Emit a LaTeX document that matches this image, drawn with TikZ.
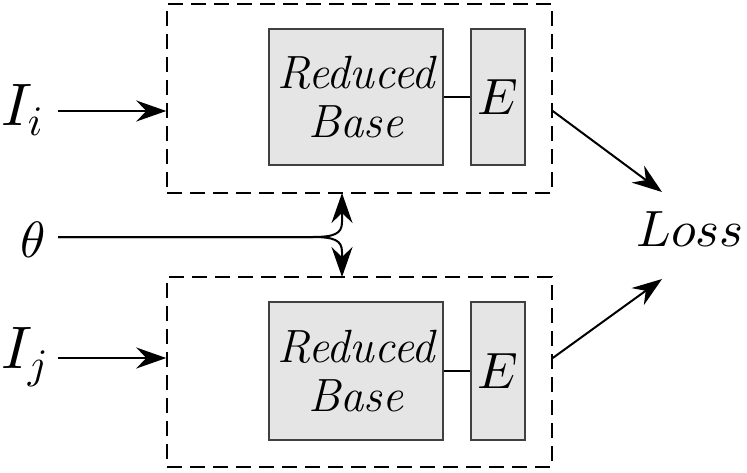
\documentclass[tikz,border=0pt]{standalone}
\usetikzlibrary{arrows.meta}
\DeclareFontShape{OML}{cmm}{m}{it}{<->cmmi10}{}
\begin{document}
\begin{tikzpicture}[x=0.5pt,y=-0.5pt,
  tip/.style={-{Stealth[length=15pt,width=10.5pt,inset=5pt]}},
  conn/.style={line width=1pt},
  frame/.style={draw, dash pattern=on 7.5pt off 4pt, line width=0.75pt, minimum width=192.5pt, minimum height=94.5pt, inner sep=0pt},
  block/.style={draw=black!75, fill=black!10, line width=0.6pt, minimum height=68pt, inner sep=0pt, align=center, font=\fontsize{23.3}{24.5}\selectfont\itshape},
  lbl/.style={inner sep=0pt, font=\fontsize{25.5}{30}\selectfont},
  biglbl/.style={inner sep=0pt, font=\fontsize{30}{36}\selectfont}
]
\useasboundingbox (0,0) rectangle (747,472);
% frames
\node[frame] (tb) at (359.5,98.5) {};
\node[frame, minimum height=95pt] (bb) at (359.5,372) {};
% top blocks
\node[block, minimum width=87pt] (r1) at (356,97) {Reduced\\Base};
\node[block, minimum width=27pt, font=\fontsize{25.5}{30}\selectfont] (e1) at (498,97) {$E$};
\draw[line width=0.8pt] (r1) -- (e1);
% bottom blocks
\node[block, minimum width=87pt, minimum height=69pt] (r2) at (356,371) {Reduced\\Base};
\node[block, minimum width=27pt, minimum height=69pt, font=\fontsize{25.5}{30}\selectfont] (e2) at (498,371) {$E$};
\draw[line width=0.8pt] (r2) -- (e2);
% labels
\node[biglbl, anchor=base west] (Ii) at (1,125) {$I_i$};
\node[lbl, anchor=base west] (th) at (20,257) {$\theta$};
\node[biglbl, anchor=base west] (Ij) at (1,368) {$I_j$};
\node[lbl, anchor=base west] (loss) at (636,246) {$Loss$};
% coordinates
\coordinate (ai) at (58,111);
\coordinate (aj) at (58,358);
\coordinate (at) at (58,237);
\coordinate (lt) at (662,192);
\coordinate (lb) at (662,279);
% connectors
\draw[conn,tip] (ai) -- (ai -| tb.west);
\draw[conn,tip] (aj) -- (aj -| bb.west);
\draw[conn,tip] (tb.east |- ai) -- (lt);
\draw[conn,tip] (bb.east |- aj) -- (lb);
\draw[conn,tip] (at) -- (312,237) .. controls (334,237) and (342,234) .. (342,222) -- (342,193);
\draw[conn,tip] (at) -- (312,237) .. controls (334,237) and (342,240) .. (342,252) -- (342,277);
\end{tikzpicture}
\end{document}
